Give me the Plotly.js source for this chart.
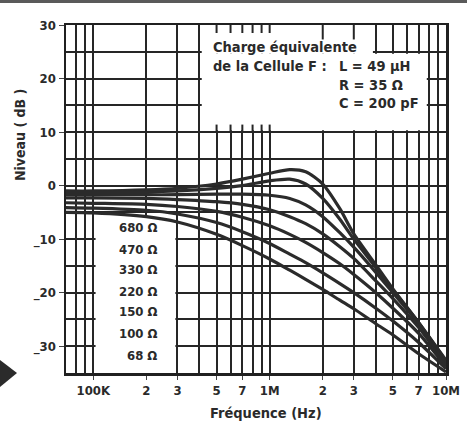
<!DOCTYPE html>
<html>
<head>
<meta charset="utf-8">
<script src="https://cdn.plot.ly/plotly-3.0.1.min.js"></script>
<style>
  html, body { margin: 0; padding: 0; background: #ffffff; }
  #chart { width: 467px; height: 425px; }
</style>
</head>
<body>
<div id="chart"></div>
<script>
// ---- Data ----
const freqHz = [7e4, 1e5, 2e5, 3e5, 5e5, 7e5, 1e6, 1.3e6, 1.6e6, 2e6, 2.5e6, 3e6, 4e6, 5e6, 7e6, 1e7];
const r680 = [-1.0, -1.0, -0.8, -0.5, 0.3, 1.2, 2.3, 3.0, 2.6, 0.3, -4.3, -9.0, -14.8, -19.3, -25.6, -32.6];
const r470 = [-1.3, -1.3, -1.2, -1.0, -0.5, 0.0, 0.9, 1.2, 0.3, -2.4, -6.3, -10.0, -15.3, -19.5, -25.6, -32.8];
const r330 = [-1.7, -1.7, -1.7, -1.7, -1.6, -1.6, -1.8, -2.4, -3.6, -5.8, -8.8, -11.5, -16.2, -20.0, -25.8, -33.0];
const r220 = [-2.3, -2.3, -2.4, -2.6, -3.0, -3.5, -4.5, -5.8, -7.1, -9.0, -11.4, -13.6, -17.8, -21.1, -26.5, -33.3];
const r150 = [-3.2, -3.3, -3.5, -3.9, -4.8, -5.9, -7.5, -9.1, -10.6, -12.5, -14.6, -16.6, -20.0, -22.9, -27.6, -33.8];
const r100 = [-4.1, -4.2, -4.6, -5.3, -6.9, -8.6, -10.8, -12.8, -14.4, -16.3, -18.3, -20.0, -22.9, -25.3, -29.3, -34.2];
const r68  = [-5.0, -5.1, -5.8, -6.8, -9.1, -11.2, -13.7, -15.8, -17.5, -19.4, -21.4, -23.0, -25.8, -27.9, -31.4, -34.8];
const loadLabels = ['680 Ω', '470 Ω', '330 Ω', '220 Ω', '150 Ω', '100 Ω', '68 Ω'];
const xTickVals = [1e5, 2e5, 3e5, 5e5, 7e5, 1e6, 2e6, 3e6, 5e6, 7e6, 1e7];
const xTickText = ['100K', '2', '3', '5', '7', '1M', '2', '3', '5', '7', '10M'];
const xMinorVals = [8e4, 9e4, 4e5, 6e5, 8e5, 9e5, 4e6, 6e6, 8e6, 9e6];
const yTickVals = [-30, -20, -10, 0, 10, 20, 30];
const yTickText = ['_30', '_20', '_10', '0', '10', '20', '30'];
const yMinorVals = [-25, -15, -5, 5, 15, 25];

// ---- Styling ----
const INK = '#2b2b2b';
const GRID = '#262626';
const TEXT = '#2a2a2a';
const FONT = 'DejaVu Sans Condensed';

const curves = [r680, r470, r330, r220, r150, r100, r68];
const traces = curves.map((vals, i) => ({
  x: freqHz,
  y: vals,
  name: loadLabels[i],
  type: 'scatter',
  mode: 'lines',
  line: { color: INK, width: 3.2, shape: 'spline', smoothing: 0.7 },
  hoverinfo: 'skip',
  showlegend: false
}));

// grid masks / fragments (layout decoration)
const shapes = [];
const mask = (x0, x1, y0, y1) => shapes.push({
  type: 'rect', xref: 'x', yref: 'y', x0, x1, y0, y1,
  fillcolor: '#ffffff', line: { width: 0 }, layer: 'between'
});
mask(4.12e5, 7.78e6, 10.35, 24.65);   // annotation box
mask(4.12e5, 3.85e6, 24.65, 30);
mask(1.03e5, 2.92e5, -35, -5.6);      // legend box
const seg = (x0, x1, y0, y1) => shapes.push({
  type: 'line', xref: 'x', yref: 'y', x0, x1, y0, y1,
  line: { color: GRID, width: 2 }, layer: 'between'
});
[5e5, 6e5, 7e5, 8e5, 9e5, 1e6].forEach(f => { seg(f, f, 30, 28.5); seg(f, f, 10, 11.4); });
[2e6, 3e6].forEach(f => seg(f, f, 30, 27.3));
// page border at top and marker triangle
shapes.push({ type: 'rect', xref: 'paper', yref: 'paper', x0: -0.18, x1: 1.06, y0: 1.0635, y1: 1.08,
  fillcolor: '#5a5a5a', line: { width: 0 }, layer: 'above' });
shapes.push({ type: 'path', xref: 'paper', yref: 'paper',
  path: 'M -0.1737 0.0374 L -0.1289 0 L -0.1737 -0.0402 Z',
  fillcolor: INK, line: { width: 0 }, layer: 'above' });

const annotations = [];
const txt = (text, x, y, xanchor, size, extra) => annotations.push(Object.assign({
  text, x, y, xref: 'paper', yref: 'paper', xanchor, yanchor: 'middle', showarrow: false,
  font: { family: FONT, size, color: TEXT, weight: 'bold' }
}, extra || {}));

const legendY = [0.4167, 0.3563, 0.296, 0.2356, 0.1753, 0.1149, 0.0517];
loadLabels.forEach((lab, i) => txt(lab, 0.244, legendY[i], 'right', 13));

txt('Charge équivalente', 0.382, 0.937, 'left', 14.5);
txt('de la Cellule F :', 0.382, 0.882, 'left', 14.5);
txt('L = 49 µH', 0.712, 0.882, 'left', 14.5);
txt('R = 35 Ω', 0.712, 0.8276, 'left', 14.5);
txt('C = 200 pF', 0.712, 0.776, 'left', 14.5);
txt('Niveau ( dB )', -0.121, 0.684, 'center', 14, { textangle: -90 });
txt('Fréquence (Hz)', 0.526, -0.116, 'center', 14.5);

const axisCommon = {
  showline: true, mirror: true, linecolor: '#202020', linewidth: 2.5,
  showgrid: true, gridcolor: GRID, gridwidth: 2, zeroline: false,
  ticks: 'outside', tickcolor: '#444', tickwidth: 1,
  tickfont: { family: FONT, size: 13, color: TEXT, weight: 'bold' },
  fixedrange: true
};

const layout = {
  width: 467, height: 425,
  margin: { l: 66, r: 21, t: 25, b: 52, pad: 0 },
  paper_bgcolor: '#ffffff', plot_bgcolor: '#ffffff',
  showlegend: false,
  xaxis: Object.assign({}, axisCommon, {
    type: 'log', range: [Math.log10(7e4), 7],
    tickmode: 'array', tickvals: xTickVals, ticktext: xTickText, ticklen: 4,
    minor: { tickvals: xMinorVals, showgrid: true, gridcolor: GRID, gridwidth: 2, ticks: '' }
  }),
  yaxis: Object.assign({}, axisCommon, {
    range: [-35, 30],
    tickmode: 'array', tickvals: yTickVals, ticktext: yTickText, ticklen: 5,
    minor: { tickvals: yMinorVals, showgrid: true, gridcolor: GRID, gridwidth: 2, ticks: '' }
  }),
  shapes, annotations
};

Plotly.newPlot('chart', traces, layout, { staticPlot: true, displayModeBar: false });
</script>
</body>
</html>
